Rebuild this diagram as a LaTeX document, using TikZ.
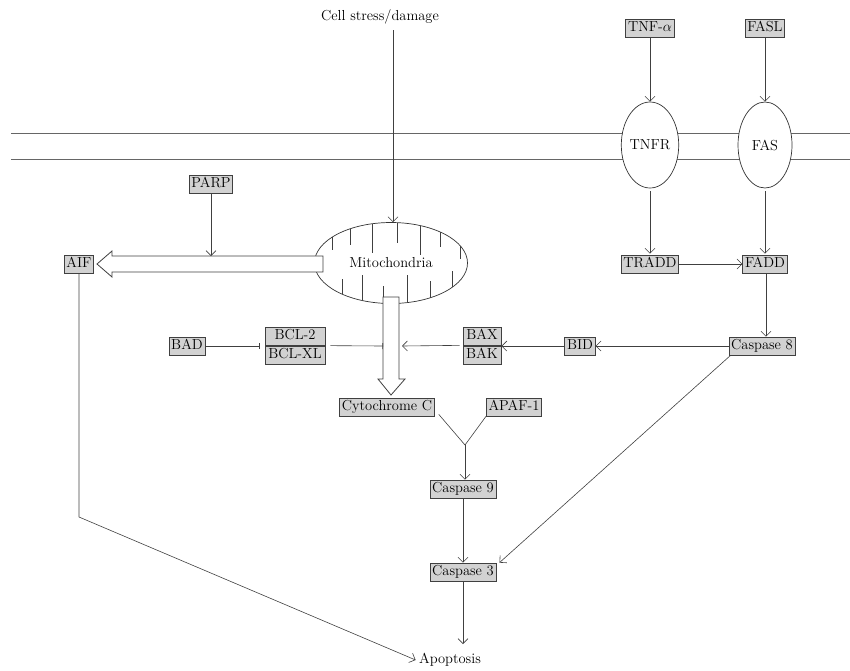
\documentclass[tikz,border=0pt]{standalone}
\usepackage{amsmath}
\usepackage{tikz}
\usetikzlibrary{arrows.meta, shapes.geometric}

\tikzset{
  protein/.style={draw=black!75, fill=gray!35, line width=0.8pt, inner sep=2.2pt,
    text height=10.5pt, text depth=3pt},
  receptor/.style={draw=black!80, fill=white, ellipse, line width=0.7pt,
    minimum width=54, minimum height=86, inner sep=0pt},
  arr/.style={draw=black!75, line width=0.6pt, -{Straight Barb[length=5pt,width=10pt]}},
  inhib/.style={draw=black!75, line width=0.6pt, -{Bar[width=6pt]}},
  hollow/.style={draw=black!75, fill=white, line width=0.8pt},
  membrane/.style={draw=black!60, line width=0.8pt}
}

\begin{document}
\begin{tikzpicture}[x=1pt, y=-1pt, font=\fontsize{14.5}{17}\selectfont]
    \useasboundingbox (0,0) rectangle (850,670);
    % Membrane
    \draw [membrane] (11,133) -- (850,133);
    \draw [membrane] (11,159) -- (850,159);
    % Receptors and ligands
    \node [protein] (tnfa) at (650,28) {TNF-$\alpha$};
    \node [protein] (fasl) at (765,28) {FASL};
    \node [receptor] (tnfr) at (650,145) {TNFR};
    \node [receptor] (fas) at (765,145) {FAS};
    \node [protein] (tradd) at (650,264) {TRADD};
    \node [protein] (fadd) at (765,264) {FADD};
    \node [protein] (casp8) at (762,346) {Caspase 8};
    \node [protein] (bid) at (580,346) {BID};
    \node [protein, minimum width=38] (bax) at (482,336) {BAX};
    \node [protein, minimum width=38] (bak) at (482,355) {BAK};
    \node [protein, minimum width=60] (bcl2) at (295,336) {BCL-2};
    \node [protein, minimum width=60] (bclxl) at (295,355) {BCL-XL};
    \node [protein] (bad) at (187,346) {BAD};
    \node (stress) at (380,17) {Cell stress/damage};
    % Mitochondria
    \node [draw=black!80, ellipse, line width=0.7pt, minimum width=153,
        minimum height=81, inner sep=0pt] (mito) at (391,263) {};
    \foreach \x/\l in {332/13, 350/16, 372/29, 397/20, 420/29, 440/15, 460/13} {
        \pgfmathsetmacro\yt{263-40.5*sqrt(1-((\x-391)/76.5)^2)}
        \draw [black!75, line width=0.6pt] (\x,\yt) -- ++(0,\l);
    }
    \foreach \x/\l in {342/15, 362/25, 383/17, 407/28, 430/17, 452/16} {
        \pgfmathsetmacro\yb{263+40.5*sqrt(1-((\x-391)/76.5)^2)}
        \draw [black!75, line width=0.6pt] (\x,\yb) -- ++(0,-\l);
    }
    % Hollow arrows
    \draw [hollow] (323,256) -- (112,256) -- (112,251) -- (97,264)
        -- (112,277) -- (112,272) -- (323,272) -- cycle;
    \draw [hollow] (383,297) -- (383,379) -- (378,379) -- (391,395)
        -- (405,379) -- (399,379) -- (399,297) -- cycle;
    \node [fill=white, inner sep=1pt] at (391,263) {Mitochondria};
    \node [protein] (aif) at (79,264) {AIF};
    \node [protein] (parp) at (211,184) {PARP};
    \node [protein] (cytc) at (387,407) {Cytochrome C};
    \node [protein] (apaf) at (514,407) {APAF-1};
    \node [protein] (casp9) at (463,489) {Caspase 9};
    \node [protein] (casp3) at (463,572) {Caspase 3};
    \node (apop) at (450,660) {Apoptosis};
    % Named points
    \coordinate (parpend) at (211,256);
    \coordinate (bcltip) at (383,346);
    \coordinate (baxtip) at (402,346);
    \coordinate (join) at (465,445);
    \coordinate (aifturn) at (79,517);
    % Extrinsic pathway
    \draw [arr] (tnfa) -- (tnfr);
    \draw [arr] (fasl) -- (fas);
    \draw [arr] ([yshift=-3pt]tnfr.south) -- ([yshift=1pt]tradd.north);
    \draw [arr] ([yshift=-3pt]fas.south) -- ([yshift=1pt]fadd.north);
    \draw [arr] (tradd) -- (fadd);
    \draw [arr] (fadd.south -| 766,0) -- (casp8.north -| 766,0);
    \draw [arr] (casp8) -- (bid);
    \draw [arr] ([xshift=2pt]casp8.south west) -- ([xshift=3pt]casp3.north east);
    % Intrinsic pathway
    \draw [arr] (stress) ++(13,13) -- (mito.north -| 393,0);
    \draw [arr] (parp) -- (parpend);
    \draw [inhib, shorten >=5pt] (bad) -- (bad -| bcl2.west);
    \draw [inhib] (bclxl.north east -| bcl2.east) ++(5,0) -- (bcltip);
    \draw [arr] (bid) -- (bid -| bax.east);
    \draw [arr] (bax.south west) ++(-3,0) -- (baxtip);
    \draw [black!75, line width=0.6pt] ([shift={(4,-2)}]cytc.south east) -- (join)
        -- (apaf.south west);
    \draw [arr] (join) -- (join |- casp9.north);
    \draw [arr] (casp9) -- (casp3);
    \draw [arr] (casp3) -- (casp3 |- 0,644);
    \draw [arr] (aif) -- (aifturn) -- (apop.west);
\end{tikzpicture}
\end{document}
